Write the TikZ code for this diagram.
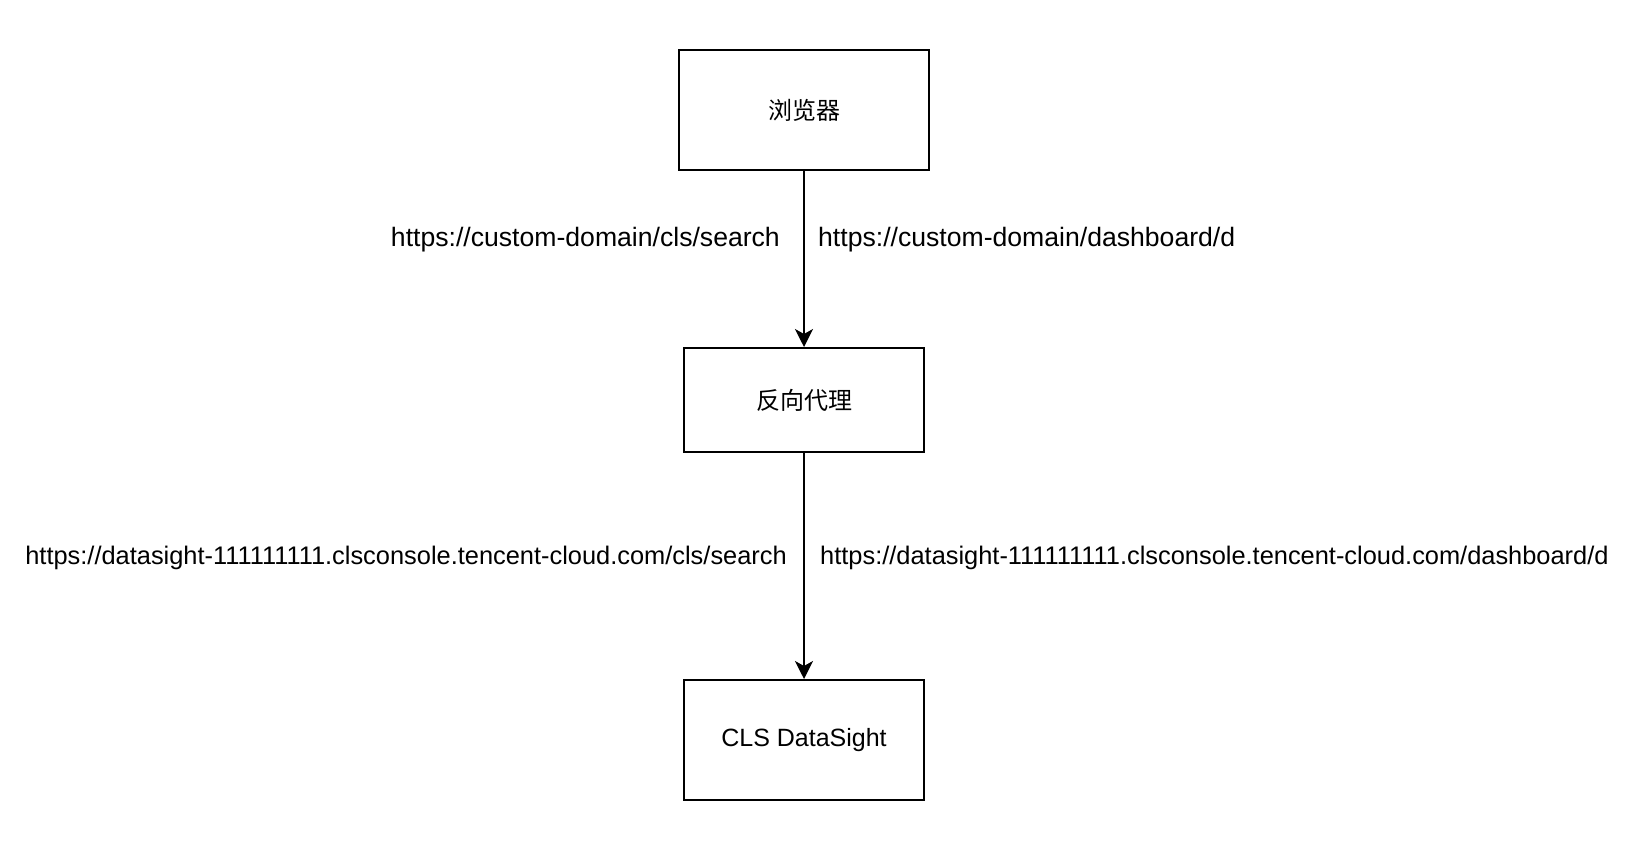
\documentclass[tikz,border=0pt]{standalone}
\usepackage{fontspec}
\setmainfont{Liberation Sans}
\newfontfamily\cjk{Noto Sans CJK SC}
\usetikzlibrary{arrows.meta}
\begin{document}
\begin{tikzpicture}[x=1pt,y=-1pt,
  box/.style={draw=black,line width=2pt,fill=white,inner sep=0pt,anchor=north west},
  boxtxt/.style={font=\fontsize{25}{30}\selectfont,inner sep=0pt},
  lbltop/.style={font=\fontsize{26.6}{30}\selectfont,inner sep=0pt},
  lblbot/.style={font=\fontsize{25.4}{30}\selectfont,inner sep=0pt},
  cjklbl/.style={font=\cjk\fontsize{24}{28}\selectfont},
  conn/.style={line width=1.6pt,-{Stealth[length=18pt,width=18pt,inset=5pt]}}]
\useasboundingbox[fill=white] (0,0) rectangle (1626,842);
\node[box,minimum width=250pt,minimum height=120pt] (b1) at (678,49) {};
\node[cjklbl] (t1) at (b1.center) {浏览器};
\node[box,minimum width=240pt,minimum height=104pt] (b2) at (683,347) {};
\node[cjklbl] (t2) at (b2.center) {反向代理};
\node[box,minimum width=240pt,minimum height=120pt] (b3) at (683,679) {};
\node[boxtxt] (t3) at (b3.center) {CLS DataSight};
\draw[conn] (b1.south) -- (b2.north);
\draw[conn] (b2.south) -- (b3.north);
\node[lbltop,anchor=east] (l1) at (780,240) {https://custom-domain/cls/search};
\node[lbltop,anchor=west] (l2) at (818,240) {https://custom-domain/dashboard/d};
\node[lblbot,anchor=east] (l3) at (787,558) {https://datasight-111111111.clsconsole.tencent-cloud.com/cls/search};
\node[lblbot,anchor=west] (l4) at (820,558) {https://datasight-111111111.clsconsole.tencent-cloud.com/dashboard/d};
\end{tikzpicture}
\end{document}
